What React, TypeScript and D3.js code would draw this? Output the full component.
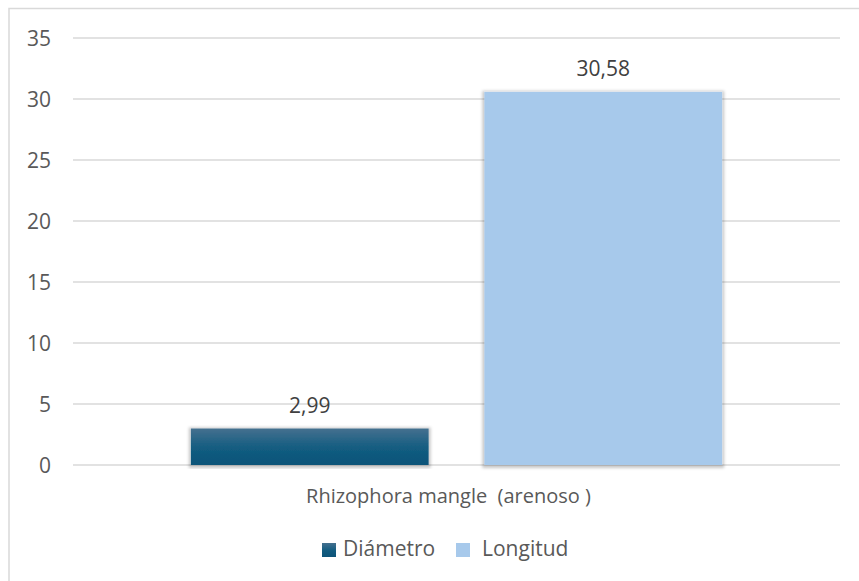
import React from "react";
import * as d3 from "d3";

const categories = ["Rhizophora mangle  (arenoso )"];
const seriesNames = ["Diámetro", "Longitud"];
const diametro = [2.99];
const longitud = [30.58];
const yTicks = [0, 5, 10, 15, 20, 25, 30, 35];

const W = 859;
const H = 581;
const FONT = "'Open Sans', 'Noto Sans', sans-serif";

export default function App() {
  const plotLeft = 73;
  const plotRight = 840;
  const plotTop = 38;
  const plotBottom = 465;

  const y = d3.scaleLinear().domain([0, 35]).range([plotBottom, plotTop]);
  const x0 = d3.scaleBand().domain(categories).range([plotLeft, plotRight]).paddingInner(0).paddingOuter(0.222);
  const x1 = d3.scaleBand().domain(seriesNames).range([0, x0.bandwidth()]).paddingInner(0.19);

  const fmt = (v: number) => v.toFixed(2).replace(".", ",");

  const data = categories.map((c, i) => ({
    cat: c,
    values: [
      { key: seriesNames[0], value: diametro[i] },
      { key: seriesNames[1], value: longitud[i] },
    ],
  }));

  const fills: Record<string, string> = {
    "Diámetro": "url(#gradDiam)",
    "Longitud": "#a7c9eb",
  };

  return (
    <svg width={W} height={H} style={{ display: "block", position: "absolute", left: 0, top: 0 }}>
      <defs>
        <linearGradient id="gradDiam" x1="0" y1="0" x2="0" y2="1">
          <stop offset="0" stopColor="#44708f" />
          <stop offset="0.55" stopColor="#125c80" />
          <stop offset="1" stopColor="#0d5479" />
        </linearGradient>
        <filter id="barShadow" x="-10%" y="-10%" width="120%" height="120%">
          <feMorphology in="SourceAlpha" operator="dilate" radius="2" result="grown" />
          <feGaussianBlur in="grown" stdDeviation="1.5" result="blur" />
          <feOffset in="blur" dx="0" dy="1" result="off" />
          <feFlood floodColor="#000" floodOpacity="0.22" />
          <feComposite in2="off" operator="in" result="shadow" />
          <feMerge>
            <feMergeNode in="shadow" />
            <feMergeNode in="SourceGraphic" />
          </feMerge>
        </filter>
      </defs>
      <rect x={0} y={0} width={W} height={H} fill="#fff" />
      <rect x={9} y={8.5} width={W + 20} height={H + 20} fill="none" stroke="#d9d9d9" strokeWidth={1.5} />

      {yTicks.map((t) => (
        <g key={t}>
          <line x1={plotLeft} x2={plotRight} y1={y(t)} y2={y(t)} stroke="#d9d9d9" strokeWidth={1.3} />
          <text x={51} y={y(t) + 8} textAnchor="end" fontFamily={FONT} fontSize={21} fill="#595959">
            {t}
          </text>
        </g>
      ))}

      {data.map((d) => (
        <g key={d.cat} transform={`translate(${x0(d.cat)},0)`}>
          {d.values.map((v) => (
            <g key={v.key}>
              <rect
                x={x1(v.key)}
                y={y(v.value)}
                width={x1.bandwidth()}
                height={y(0) - y(v.value)}
                fill={fills[v.key]}
                filter="url(#barShadow)"
              />
              <text
                x={(x1(v.key) ?? 0) + x1.bandwidth() / 2}
                y={y(v.value) - 16}
                textAnchor="middle"
                fontFamily={FONT}
                fontSize={21}
                fill="#404040"
              >
                {fmt(v.value)}
              </text>
            </g>
          ))}
          <text
            x={x0.bandwidth() / 2 - 8}
            y={503}
            textAnchor="middle"
            fontFamily={FONT}
            fontSize={20}
            fill="#595959"
            style={{ whiteSpace: "pre" }}
          >
            {d.cat}
          </text>
        </g>
      ))}

      <g>
        <rect x={322} y={543} width={14} height={14} fill="url(#gradDiam)" />
        <text x={343} y={556} fontFamily={FONT} fontSize={21} fill="#595959">
          {seriesNames[0]}
        </text>
        <rect x={456} y={543} width={14} height={14} fill="#a7c9eb" />
        <text x={482} y={556} fontFamily={FONT} fontSize={21} fill="#595959">
          {seriesNames[1]}
        </text>
      </g>
    </svg>
  );
}
